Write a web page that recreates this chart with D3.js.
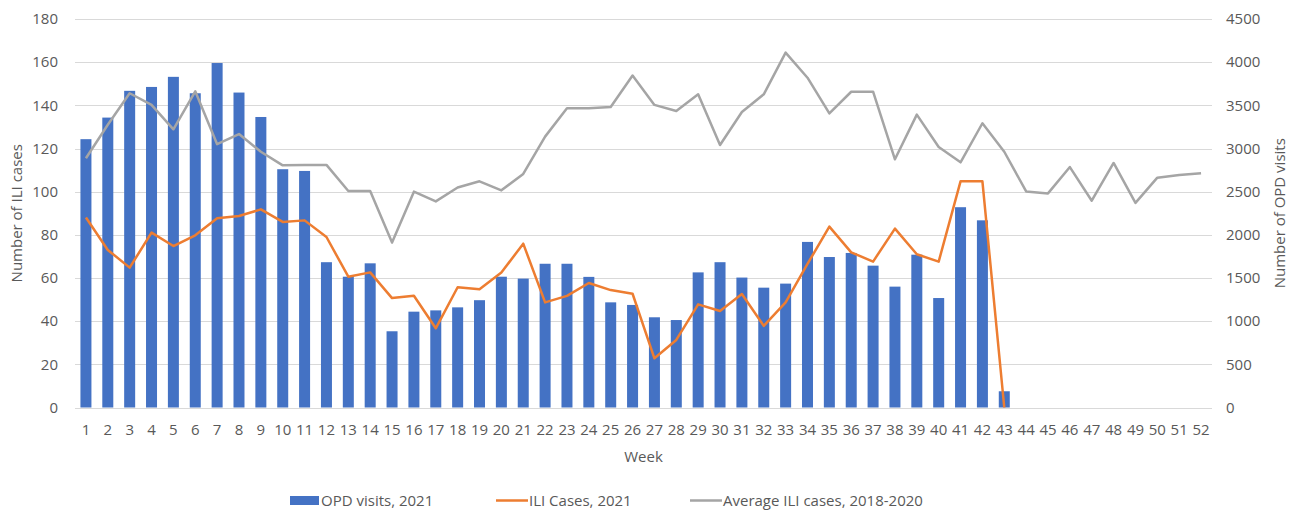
<!DOCTYPE html>
<html>
<head>
<meta charset="utf-8">
<script src="https://cdn.jsdelivr.net/npm/d3@7"></script>
<style>
  html, body { margin: 0; padding: 0; background: #fff; }
  text { font-family: "Open Sans", sans-serif; fill: #595959; }
</style>
</head>
<body>
<svg id="chart" width="1295" height="513"></svg>
<script>
const weeks = d3.range(1, 53).map(String);

// OPD visits, 2021 (right axis)
const opdVisits = [3108, 3358, 3668, 3713, 3830, 3640, 3990, 3648, 3365, 2760,
  2740, 1683, 1515, 1670, 883, 1110, 1125, 1160, 1243, 1515,
  1493, 1665, 1665, 1513, 1218, 1188, 1045, 1013, 1565, 1683,
  1505, 1388, 1435, 1918, 1743, 1790, 1643, 1400, 1770, 1268,
  2320, 2168, 188];

// ILI Cases, 2021 (left axis)
const iliCases = [88, 73, 64.8, 81, 74.8, 79.8, 87.7, 88.7, 91.8, 86,
  86.7, 79, 60.6, 62.6, 50.7, 51.8, 36.7, 55.7, 54.8, 62.5,
  75.9, 48.7, 51.7, 57.7, 54.4, 52.7, 22.8, 31.3, 47.8, 44.7,
  52.6, 37.8, 48.7, 66.5, 83.8, 71.9, 67.6, 82.9, 71, 67.6,
  104.8, 104.8, 0];

// Average ILI cases, 2018-2020 (left axis)
const avgIli = [115.5, 131, 145.6, 140.2, 128.9, 146.5, 122, 126.7, 118.5, 112.2,
  112.4, 112.4, 100.3, 100.3, 76.4, 100, 95.5, 101.9, 104.8, 100.6,
  108.2, 125.5, 138.6, 138.6, 139.2, 153.8, 140.2, 137.4, 145.1, 121.6,
  136.9, 145.1, 164.4, 152.8, 136.3, 146.3, 146.3, 115, 135.7, 120.7,
  113.6, 131.7, 118.5, 100.1, 99.2, 111.4, 95.8, 113.3, 94.8, 106.5,
  107.7, 108.5];

const leftTicks = [0, 20, 40, 60, 80, 100, 120, 140, 160, 180];
const rightTicks = [0, 500, 1000, 1500, 2000, 2500, 3000, 3500, 4000, 4500];

const svg = d3.select("#chart");
const m = { left: 75, right: 1212, top: 19, bottom: 407.5 };

const xc = d3.scaleBand().domain(weeks).range([m.left, m.right]);
const yL = d3.scaleLinear().domain([0, 180]).range([m.bottom, m.top]);
const yR = d3.scaleLinear().domain([0, 4500]).range([m.bottom, m.top]);

// gridlines
svg.append("g").selectAll("line").data(leftTicks).join("line")
  .attr("x1", m.left).attr("x2", m.right)
  .attr("y1", d => Math.round(yL(d)) + 0.5).attr("y2", d => Math.round(yL(d)) + 0.5)
  .attr("stroke", "#D9D9D9").attr("stroke-width", 1);

// left axis labels
const gL = svg.append("g").attr("transform", `translate(58,0)`)
  .call(d3.axisLeft(yL).tickValues(leftTicks).tickFormat(d3.format("d")).tickSize(0).tickPadding(0));
gL.select(".domain").remove();
gL.selectAll("text").attr("font-size", 15).attr("fill", "#595959").attr("font-family", "Open Sans");

// right axis labels
const gR = svg.append("g").attr("transform", `translate(1226,0)`)
  .call(d3.axisRight(yR).tickValues(rightTicks).tickFormat(d3.format("d")).tickSize(0).tickPadding(0));
gR.select(".domain").remove();
gR.selectAll("text").attr("font-size", 15).attr("fill", "#595959").attr("font-family", "Open Sans");

// bottom axis labels
const gB = svg.append("g").attr("transform", `translate(0,${m.bottom})`)
  .call(d3.axisBottom(xc).tickSize(0).tickPadding(17));
gB.select(".domain").remove();
gB.selectAll("text").attr("font-size", 15).attr("fill", "#595959").attr("font-family", "Open Sans");

// bars
svg.append("g").selectAll("rect").data(opdVisits).join("rect")
  .attr("x", (d, i) => xc(weeks[i]) + xc.bandwidth() / 2 - 5.5)
  .attr("width", 11)
  .attr("y", d => yR(d))
  .attr("height", d => yR(0) - yR(d))
  .attr("fill", "#4472C4");

const cx = (d, i) => xc(weeks[i]) + xc.bandwidth() / 2;
const lineL = d3.line().x(cx).y(d => yL(d));

svg.append("path").datum(iliCases).attr("d", lineL)
  .attr("fill", "none").attr("stroke", "#ED7D31").attr("stroke-width", 2.5)
  .attr("stroke-linejoin", "round");
svg.append("path").datum(avgIli).attr("d", lineL)
  .attr("fill", "none").attr("stroke", "#A5A5A5").attr("stroke-width", 2.5)
  .attr("stroke-linejoin", "round");

// axis titles
svg.append("text").attr("transform", `translate(22,${(m.top + m.bottom) / 2}) rotate(-90)`)
  .attr("text-anchor", "middle").attr("font-size", 15).text("Number of ILI cases");
svg.append("text").attr("transform", `translate(1285,${(m.top + m.bottom) / 2}) rotate(-90)`)
  .attr("text-anchor", "middle").attr("font-size", 15).text("Number of OPD visits");
svg.append("text").attr("x", (m.left + m.right) / 2).attr("y", 462)
  .attr("text-anchor", "middle").attr("font-size", 15).text("Week");

// legend
const lg = svg.append("g").attr("font-size", 15);
lg.append("rect").attr("x", 290).attr("y", 496).attr("width", 29).attr("height", 9).attr("fill", "#4472C4");
lg.append("text").attr("x", 321).attr("y", 506).attr("font-size", 15).text("OPD visits, 2021");
lg.append("line").attr("x1", 496).attr("x2", 528).attr("y1", 500.5).attr("y2", 500.5)
  .attr("stroke", "#ED7D31").attr("stroke-width", 2.5);
lg.append("text").attr("x", 529).attr("y", 506).attr("font-size", 15).text("ILI Cases, 2021");
lg.append("line").attr("x1", 690).attr("x2", 722).attr("y1", 500.5).attr("y2", 500.5)
  .attr("stroke", "#A5A5A5").attr("stroke-width", 2.5);
lg.append("text").attr("x", 723).attr("y", 506).attr("font-size", 15).text("Average ILI cases, 2018-2020");
</script>
</body>
</html>
